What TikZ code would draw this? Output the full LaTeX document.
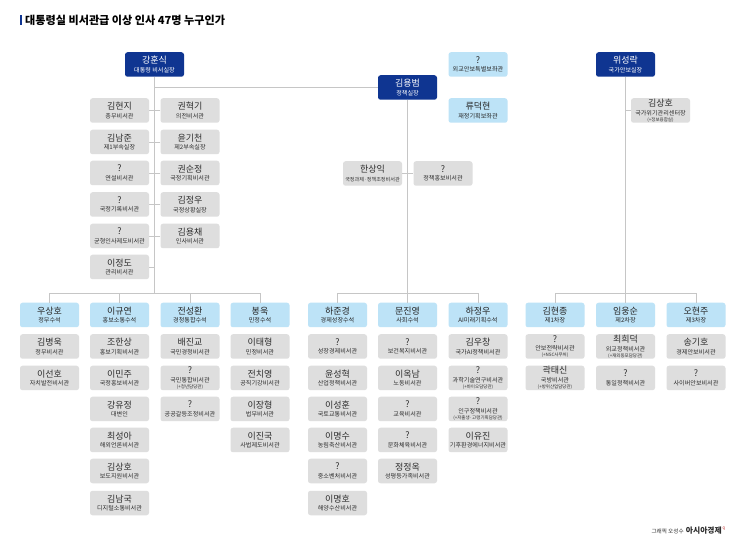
\documentclass[tikz,border=0pt]{standalone}
\usepackage{fontspec}
\setmainfont{Noto Sans CJK KR}
\usetikzlibrary{calc}
\definecolor{chiefblue}{HTML}{0F3591}
\definecolor{seniorblue}{HTML}{BDE3F7}
\definecolor{staffgray}{HTML}{DEDEDE}
\definecolor{linegray}{HTML}{C6C6C6}
\definecolor{inkgray}{HTML}{2E2E2E}
\tikzset{member/.style = {shape=rectangle,rounded corners=2.5pt,minimum width=59pt,minimum height=24.5pt,inner sep=0pt,align=center,text=inkgray,font=\fontsize{9}{9.6}\selectfont}}
\tikzset{chief/.style = {member,fill=chiefblue,text=white}}
\tikzset{senior/.style = {member,fill=seniorblue,text=black!85}}
\tikzset{staff/.style = {member,fill=staffgray}}
\tikzset{link/.style = {draw=linegray,line width=0.8pt}}
\newcommand{\role}[1]{\\[-1pt]{\fontsize{6.1}{6.4}\selectfont #1}}
\newcommand{\tightrole}[1]{\\[-1pt]{\fontsize{5.1}{5.6}\selectfont #1}}
\newcommand{\extra}[1]{\\[-3.5pt]{\fontsize{4.5}{4.8}\selectfont #1}}
\begin{document}
\begin{tikzpicture}[x=1pt,y=-1pt]
                \useasboundingbox (0,0) rectangle (745,545);
                \fill[white] (0,0) rectangle (745,545);
                \node[fill=chiefblue,minimum width=2pt,minimum height=10pt,inner sep=0pt] (bar) at (20.5,20) {};
                \node[anchor=west,inner sep=0pt,font=\fontsize{11.1}{12}\bfseries] (title) at (25,20) {대통령실 비서관급 이상 인사 47명 누구인가};
                % heads
                \node[chief] (kang) at (154.5,64.5) {강훈식\role{대통령 비서실장}};
                \node[chief] (kimyb) at (407.5,87.5) {김용범\role{정책실장}};
                \node[chief] (wi) at (625.5,64.5) {위성락\role{국가안보실장}};
                \coordinate (kangbus) at (154.5,293);
                \coordinate (kimbus) at (407.5,293);
                \coordinate (wibus) at (625.5,293);
                \coordinate (kangside) at (154.5,87.5);
                \draw[link] (kang) -- (kangbus);
                \draw[link] (kangside) -- (kimyb);
                \draw[link] (kimyb) -- (kimbus);
                \draw[link] (wi) -- (wibus);
                % secretariat
                \foreach \nm/\lb/\rl/\yy in {hyunji/김현지/총무비서관/110.5,namjun/김남준/제1부속실장/142,speech/?/연설비서관/173,record/?/국정기록비서관/204.5,balance/?/균형인사제도비서관/236,jeongdo/이정도/관리비서관/267}{
                    \node[staff] (\nm) at (119.5,\yy) {\lb\role{\rl}};
                    \draw[link] (\nm.east) -- (\nm.east -| kang);
                }
                \foreach \nm/\lb/\rl/\yy in {hyukki/권혁기/의전비서관/110.5,kicheon/윤기천/제2부속실장/142,soonjung/권순정/국정기획비서관/173,jungwoo/김정우/국정상황실장/204.5,yongchae/김용채/인사비서관/236}{
                    \node[staff] (\nm) at (190,\yy) {\lb\role{\rl}};
                    \draw[link] (\nm.west) -- (\nm.west -| kang);
                }
                % policy office
                \node[senior] (advisor) at (478,64.5) {?\role{외교안보특별보좌관}};
                \node[senior] (deokhyun) at (478,110.5) {류덕현\role{재정기획보좌관}};
                \node[staff] (sangik) at (372.5,173.5) {한상익\tightrole{국정과제·정책조정비서관}};
                \node[staff] (pr) at (443,173.5) {?\role{정책홍보비서관}};
                \draw[link] (sangik) -- (pr);
                % security office
                \node[staff] (sangho) at (660.5,110.5) {김상호\role{국가위기관리센터장}\extra{(+정보융합실)}};
                \draw[link] (sangho.west) -- (sangho.west -| wi);
                % senior secretaries
                \foreach \nm/\lb/\rl/\xx/\bus in {woo/우상호/정무수석/49.5/kangbus,lee/이규연/홍보소통수석/119.5/kangbus,jeon/전성환/경청통합수석/190/kangbus,bong/봉욱/민정수석/260/kangbus,ha/하준경/경제성장수석/337.5/kimbus,moon/문진영/사회수석/407.5/kimbus,hajw/하정우/AI미래기획수석/478/kimbus,kimhj/김현종/제1차장/555/wibus,lim/임웅순/제2차장/625.5/wibus,oh/오현주/제3차장/696/wibus}{
                    \node[senior] (\nm) at (\xx,315) {\lb\role{\rl}};
                    \draw[link] (\nm.north) |- (\bus);
                }
                % column 1
                \node[staff] (a1) at (49.5,346.5) {김병욱\role{정무비서관}};
                \node[staff] (a2) at (49.5,378) {이선호\role{자치발전비서관}};
                % column 2
                \node[staff] (b1) at (119.5,346.5) {조한상\role{홍보기획비서관}};
                \node[staff] (b2) at (119.5,378) {이민주\role{국정홍보비서관}};
                \node[staff] (b3) at (119.5,409) {강유정\role{대변인}};
                \node[staff] (b4) at (119.5,440) {최성아\role{해외언론비서관}};
                \node[staff] (b5) at (119.5,471) {김상호\role{보도지원비서관}};
                \node[staff] (b6) at (119.5,503) {김남국\role{디지털소통비서관}};
                % column 3
                \node[staff] (c1) at (190,346.5) {배진교\role{국민경청비서관}};
                \node[staff] (c2) at (190,378) {?\role{국민통합비서관}\extra{(+청년담당관)}};
                \node[staff] (c3) at (190,409) {?\role{공공갈등조정비서관}};
                % column 4
                \node[staff] (d1) at (260,346.5) {이태형\role{민정비서관}};
                \node[staff] (d2) at (260,378) {전치영\role{공직기강비서관}};
                \node[staff] (d3) at (260,409) {이장형\role{법무비서관}};
                \node[staff] (d4) at (260,440) {이진국\role{사법제도비서관}};
                % column 5
                \node[staff] (e1) at (337.5,346.5) {?\role{성장경제비서관}};
                \node[staff] (e2) at (337.5,378) {윤성혁\role{산업정책비서관}};
                \node[staff] (e3) at (337.5,409) {이성훈\role{국토교통비서관}};
                \node[staff] (e4) at (337.5,440) {이명수\role{농림축산비서관}};
                \node[staff] (e5) at (337.5,471) {?\role{중소벤처비서관}};
                \node[staff] (e6) at (337.5,503) {이명호\role{해양수산비서관}};
                % column 6
                \node[staff] (f1) at (407.5,346.5) {?\role{보건복지비서관}};
                \node[staff] (f2) at (407.5,378) {이옥남\role{노동비서관}};
                \node[staff] (f3) at (407.5,409) {?\role{교육비서관}};
                \node[staff] (f4) at (407.5,440) {?\role{문화체육비서관}};
                \node[staff] (f5) at (407.5,471) {정정옥\role{성평등가족비서관}};
                % column 7
                \node[staff] (g1) at (478,346.5) {김우창\role{국가AI정책비서관}};
                \node[staff] (g2) at (478,378) {?\role{과학기술연구비서관}\extra{(+바이오담당관)}};
                \node[staff] (g3) at (478,409) {?\role{인구정책비서관}\extra{(+저출생·고령기획담당관)}};
                \node[staff] (g4) at (478,440) {이유진\role{기후환경에너지비서관}};
                % column 8
                \node[staff] (h1) at (555,346.5) {?\role{안보전략비서관}\extra{(+NSC사무처)}};
                \node[staff] (h2) at (555,378) {곽태신\role{국방비서관}\extra{(+방위산업담당관)}};
                % column 9
                \node[staff] (i1) at (625.5,346.5) {최희덕\role{외교정책비서관}\extra{(+재외동포담당관)}};
                \node[staff] (i2) at (625.5,378) {?\role{통일정책비서관}};
                % column 10
                \node[staff] (j1) at (696,346.5) {송기호\role{경제안보비서관}};
                \node[staff] (j2) at (696,378) {?\role{사이버안보비서관}};
                % credit
                \node[anchor=east,inner sep=0pt,text=inkgray] (credit) at (722,531) {{\fontsize{5.6}{6}\selectfont 그래픽 오성수} {\fontsize{7.8}{8}\selectfont\bfseries 아시아경제}};
                \node[anchor=west,inner sep=0pt,font=\fontsize{3.5}{4}\selectfont,text=red!70!black] (mark) at (722.5,528.5) {Q};
            \end{tikzpicture}
\end{document}
